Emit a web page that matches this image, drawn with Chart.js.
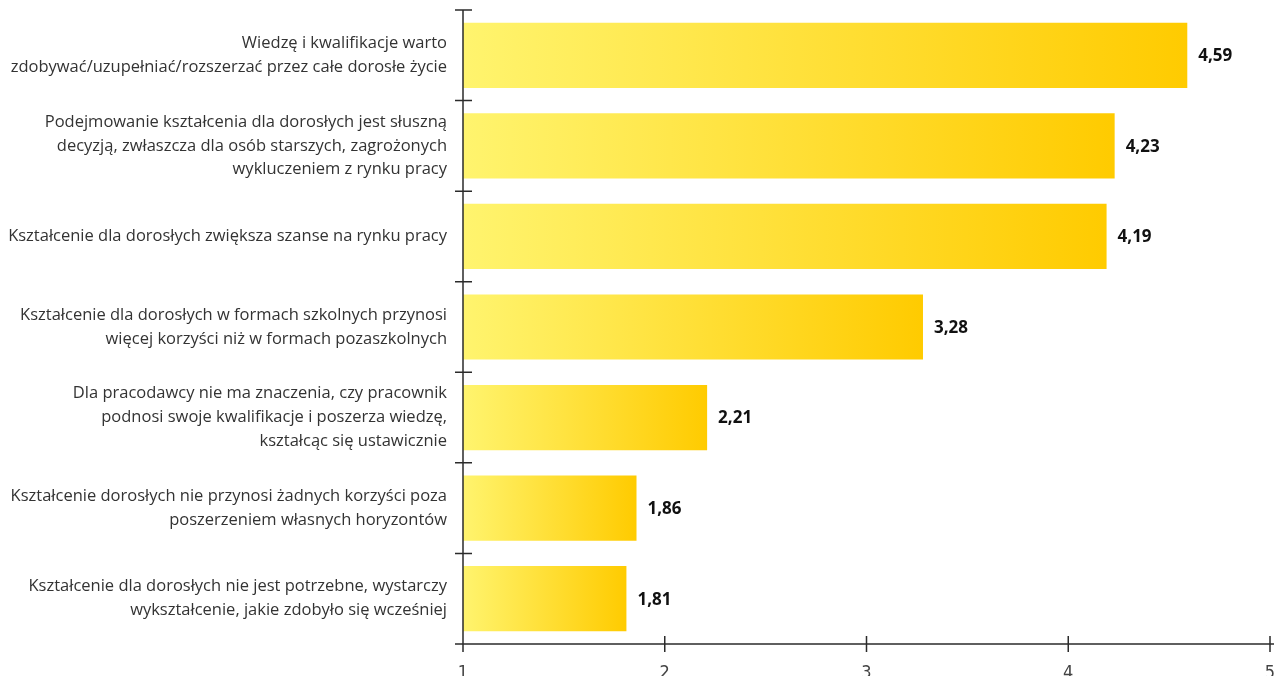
<!DOCTYPE html>
<html>
<head>
<meta charset="utf-8">
<script src="https://cdn.jsdelivr.net/npm/chart.js@4"></script>
<style>
html,body{margin:0;padding:0;background:#fff;}
#wrap{width:1275px;height:676px;position:relative;}
</style>
</head>
<body>
<div id="wrap"><canvas id="chart"></canvas></div>
<script>
const statements=[
    ['Wiedzę i kwalifikacje warto','zdobywać/uzupełniać/rozszerzać przez całe dorosłe życie'],
    ['Podejmowanie kształcenia dla dorosłych jest słuszną','decyzją, zwłaszcza dla osób starszych, zagrożonych','wykluczeniem z rynku pracy'],
    ['Kształcenie dla dorosłych zwiększa szanse na rynku pracy'],
    ['Kształcenie dla dorosłych w formach szkolnych przynosi','więcej korzyści niż w formach pozaszkolnych'],
    ['Dla pracodawcy nie ma znaczenia, czy pracownik','podnosi swoje kwalifikacje i poszerza wiedzę,','kształcąc się ustawicznie'],
    ['Kształcenie dorosłych nie przynosi żadnych korzyści poza','poszerzeniem własnych horyzontów'],
    ['Kształcenie dla dorosłych nie jest potrzebne, wystarczy','wykształcenie, jakie zdobyło się wcześniej']
];
const averages=[4.59,4.23,4.19,3.28,2.21,1.86,1.81];
const scaleMin=1;
const scaleMax=5;

const barGradient=(context)=>{
    const chart=context.chart;
    const xs=chart.scales.x;
    if(!xs || !chart.chartArea){
        return '#ffd633';
    }
    const x0=xs.getPixelForValue(scaleMin);
    const x1=xs.getPixelForValue(averages[context.dataIndex]);
    const g=chart.ctx.createLinearGradient(x0,0,x1,0);
    g.addColorStop(0,'#fff46e');
    g.addColorStop(1,'#ffcb00');
    return g;
}

const noPad=(scale)=>{
    scale.paddingTop=0;
    scale.paddingBottom=0;
    scale.paddingLeft=0;
    scale.paddingRight=0;
}

// axes with ticks crossing the line + value labels
const axesAndLabels={
    id:'axesAndLabels',
    afterDatasetsDraw(chart){
        const ctx=chart.ctx;
        const xs=chart.scales.x;
        const ys=chart.scales.y;
        const area=chart.chartArea;
        ctx.save();
        ctx.strokeStyle='#2b2b2b';
        ctx.lineWidth=1.5;
        ctx.beginPath();
        ctx.moveTo(area.left,area.top);
        ctx.lineTo(area.left,area.bottom);
        ctx.moveTo(area.left,area.bottom);
        ctx.lineTo(area.right+4,area.bottom);
        for(let i=0;i<=statements.length;i++){
            const y=ys.getPixelForValue(i-0.5);
            ctx.moveTo(area.left-8,y);
            ctx.lineTo(area.left+9,y);
        }
        for(let v=scaleMin;v<=scaleMax;v++){
            const x=xs.getPixelForValue(v);
            ctx.moveTo(x,area.bottom-8);
            ctx.lineTo(x,area.bottom+8);
        }
        ctx.stroke();

        ctx.fillStyle='#111';
        ctx.font='bold 17px "Open Sans", sans-serif';
        ctx.textBaseline='middle';
        ctx.textAlign='left';
        const meta=chart.getDatasetMeta(0);
        meta.data.forEach((bar,i)=>{
            ctx.fillText(averages[i].toFixed(2).replace('.',','),bar.x+11,bar.y+1);
        });
        ctx.restore();
    }
}

new Chart(document.getElementById('chart'),{
    type:'bar',
    data:{
        labels:statements,
        datasets:[{
            data:averages,
            backgroundColor:barGradient,
            borderWidth:0,
            categoryPercentage:1,
            barPercentage:0.72
        }]
    },
    options:{
        indexAxis:'y',
        responsive:true,
        maintainAspectRatio:false,
        animation:false,
        layout:{padding:{top:10,right:5,left:0,bottom:0}},
        plugins:{legend:{display:false},tooltip:{enabled:false}},
        scales:{
            x:{
                min:scaleMin,
                max:scaleMax,
                ticks:{
                    stepSize:1,
                    color:'#444',
                    padding:11,
                    font:{family:'"Liberation Sans Narrow", "DejaVu Sans Condensed", sans-serif',size:18}
                },
                grid:{display:false},
                border:{display:false},
                afterFit(scale){scale.height=32;noPad(scale);}
            },
            y:{
                ticks:{
                    color:'#333',
                    padding:8,
                    font:{family:'"Open Sans", sans-serif',size:16.5,lineHeight:1.45}
                },
                grid:{display:false},
                border:{display:false},
                afterFit(scale){scale.width=463;noPad(scale);}
            }
        }
    },
    plugins:[axesAndLabels]
});
</script>
</body>
</html>
